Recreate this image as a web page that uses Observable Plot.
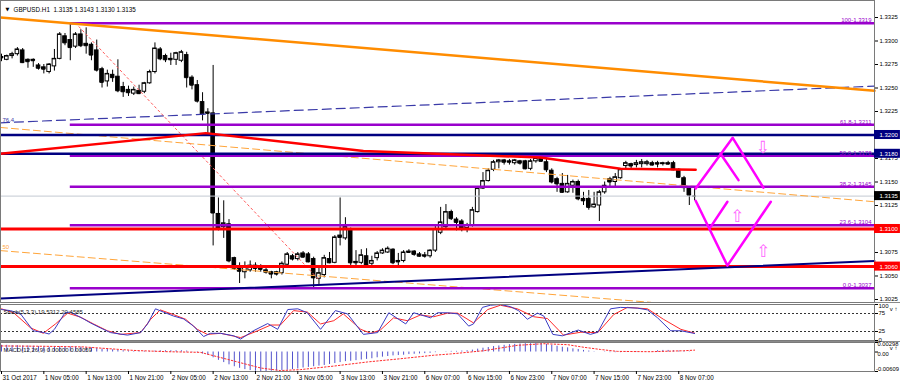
<!DOCTYPE html>
<html><head><meta charset="utf-8">
<script src="https://cdn.jsdelivr.net/npm/d3@7"></script>
<script src="https://cdn.jsdelivr.net/npm/@observablehq/plot@0.6"></script>
<style>
body{margin:0;background:#fff;}
#chart{width:900px;height:387px;overflow:hidden;font-family:"Liberation Sans",Arial,sans-serif;}
#chart svg{display:block;}
.sep{border-top:1px solid #8a8a8a;}
</style></head><body><div id="chart"></div>
<script>
// ---------- DATA ----------
const symbolTitle = "GBPUSD.H1  1.3135 1.3143 1.3130 1.3135";
const open = [
1.3283,1.3280,1.3284,1.3286,1.3290,1.3280,1.3280,1.3274,1.3272,1.3267,
1.3273,1.3281,1.3305,1.3301,1.3294,1.3307,1.3297,1.3296,1.3290,1.3270,
1.3257,1.3264,1.3262,1.3251,1.3248,1.3244,1.3247,1.3246,1.3255,1.3267,
1.3291,1.3284,1.3281,1.3280,1.3279,1.3285,1.3261,1.3253,1.3235,1.3224,
1.3223,1.3116,1.3102,1.3105,1.3069,1.3058,1.3054,1.3056,1.3061,1.3059,
1.3056,1.3054,1.3054,1.3053,1.3062,1.3071,1.3068,1.3074,1.3073,1.3068,
1.3047,1.3051,1.3068,1.3064,1.3093,1.3090,1.3100,1.3065,1.3064,1.3071,
1.3063,1.3069,1.3074,1.3075,1.3078,1.3066,1.3066,1.3076,1.3076,1.3073,
1.3072,1.3071,1.3077,1.3096,1.3102,1.3118,1.3110,1.3108,1.3101,1.3104,
1.3118,1.3143,1.3151,1.3163,1.3171,1.3173,1.3172,1.3170,1.3172,1.3172,
1.3164,1.3172,1.3176,1.3171,1.3162,1.3153,1.3148,1.3139,1.3146,1.3150,
1.3132,1.3132,1.3123,1.3125,1.3139,1.3153,1.3150,1.3154,1.3167,1.3169,
1.3168,1.3169,1.3169,1.3170,1.3170,1.3169,1.3170,1.3170,1.3163,1.3154,
1.3143,1.3135];
const high = [
1.3286,1.3285,1.3288,1.3293,1.3292,1.3281,1.3281,1.3276,1.3275,1.3276,
1.3291,1.3309,1.3308,1.3319,1.3309,1.3312,1.3314,1.3298,1.3301,1.3272,
1.3269,1.3269,1.3280,1.3256,1.3252,1.3251,1.3253,1.3256,1.3269,1.3298,
1.3293,1.3286,1.3287,1.3288,1.3290,1.3288,1.3263,1.3258,1.3245,1.3228,
1.3274,1.3133,1.3130,1.3110,1.3070,1.3064,1.3065,1.3066,1.3064,1.3062,
1.3058,1.3055,1.3055,1.3065,1.3075,1.3073,1.3075,1.3076,1.3075,1.3070,
1.3058,1.3072,1.3075,1.3093,1.3133,1.3112,1.3101,1.3077,1.3078,1.3079,
1.3071,1.3076,1.3079,1.3081,1.3079,1.3074,1.3077,1.3078,1.3077,1.3075,
1.3075,1.3078,1.3103,1.3123,1.3126,1.3120,1.3112,1.3110,1.3106,1.3123,
1.3145,1.3160,1.3164,1.3173,1.3174,1.3174,1.3174,1.3174,1.3173,1.3173,
1.3174,1.3177,1.3178,1.3174,1.3164,1.3155,1.3159,1.3157,1.3152,1.3152,
1.3139,1.3141,1.3139,1.3141,1.3150,1.3155,1.3159,1.3164,1.3172,1.3170,
1.3173,1.3174,1.3173,1.3172,1.3172,1.3171,1.3172,1.3172,1.3164,1.3156,
1.3144,1.3143];
const low = [
1.3278,1.3279,1.3281,1.3284,1.3276,1.3271,1.3272,1.3269,1.3265,1.3265,
1.3268,1.3280,1.3295,1.3279,1.3292,1.3293,1.3286,1.3279,1.3267,1.3250,
1.3251,1.3256,1.3245,1.3240,1.3241,1.3242,1.3243,1.3244,1.3254,1.3265,
1.3279,1.3277,1.3274,1.3274,1.3277,1.3250,1.3248,1.3234,1.3215,1.3200,
1.3082,1.3098,1.3090,1.3064,1.3056,1.3042,1.3047,1.3054,1.3054,1.3054,
1.3052,1.3047,1.3050,1.3051,1.3061,1.3066,1.3066,1.3069,1.3064,1.3037,
1.3040,1.3048,1.3063,1.3063,1.3082,1.3088,1.3058,1.3061,1.3062,1.3058,
1.3060,1.3066,1.3073,1.3074,1.3062,1.3058,1.3064,1.3074,1.3071,1.3070,
1.3069,1.3069,1.3075,1.3094,1.3100,1.3109,1.3098,1.3097,1.3096,1.3102,
1.3117,1.3142,1.3150,1.3161,1.3164,1.3168,1.3168,1.3168,1.3168,1.3163,
1.3162,1.3170,1.3171,1.3160,1.3148,1.3139,1.3138,1.3138,1.3138,1.3130,
1.3125,1.3120,1.3122,1.3108,1.3137,1.3144,1.3144,1.3153,1.3163,1.3164,
1.3165,1.3165,1.3167,1.3167,1.3165,1.3167,1.3168,1.3162,1.3154,1.3139,
1.3125,1.3130];
const close = [
1.3282,1.3284,1.3286,1.3291,1.3277,1.3278,1.3279,1.3271,1.3270,1.3275,
1.3281,1.3307,1.3298,1.3293,1.3307,1.3295,1.3295,1.3285,1.3269,1.3256,
1.3265,1.3261,1.3247,1.3246,1.3245,1.3248,1.3244,1.3255,1.3267,1.3292,
1.3281,1.3280,1.3280,1.3287,1.3288,1.3261,1.3253,1.3236,1.3222,1.3223,
1.3117,1.3101,1.3106,1.3066,1.3058,1.3055,1.3060,1.3061,1.3058,1.3057,
1.3054,1.3052,1.3052,1.3063,1.3073,1.3068,1.3073,1.3070,1.3065,1.3048,
1.3053,1.3069,1.3064,1.3091,1.3091,1.3102,1.3064,1.3064,1.3072,1.3061,
1.3066,1.3074,1.3077,1.3079,1.3064,1.3065,1.3075,1.3075,1.3073,1.3071,
1.3071,1.3077,1.3100,1.3107,1.3118,1.3111,1.3107,1.3100,1.3104,1.3120,
1.3143,1.3151,1.3162,1.3171,1.3173,1.3171,1.3171,1.3173,1.3170,1.3164,
1.3172,1.3175,1.3172,1.3163,1.3150,1.3148,1.3139,1.3148,1.3150,1.3132,
1.3130,1.3123,1.3126,1.3139,1.3146,1.3150,1.3155,1.3163,1.3170,1.3167,
1.3170,1.3171,1.3171,1.3168,1.3169,1.3170,1.3169,1.3163,1.3155,1.3144,
1.3136,1.3135];

const timeTickBars = [0,8,16,24,32,40,48,56,64,72,80,88,96,104,112,120,128];
const timeLabels = ["31 Oct 2017","1 Nov 05:00","1 Nov 13:00","1 Nov 21:00","2 Nov 05:00","2 Nov 13:00","2 Nov 21:00","3 Nov 05:00","3 Nov 13:00","3 Nov 21:00","6 Nov 07:00","6 Nov 15:00","6 Nov 23:00","7 Nov 07:00","7 Nov 15:00","7 Nov 23:00","8 Nov 07:00"];
const priceTicks = [1.3025,1.3050,1.3075,1.3100,1.3125,1.3150,1.3175,1.3200,1.3225,1.3250,1.3275,1.3300,1.3325];

// Fibonacci retracement
const fibLevels = [100, 61.8, 50.0, 38.2, 23.6, 0.0];
const fibPrices = [1.3319, 1.3211, 1.3178, 1.3145, 1.3104, 1.3037];
const fibStartBar = 13;
const fibDiagBars = [14, 60];
const fibDiagPrices = [1.3319, 1.3046];

// horizontal levels
const navyLevels = [1.3200, 1.3180];
const redLevels = [1.3100, 1.3060];
const lastPrice = 1.3135;

// trend lines (two anchors each)
const orangeTrendBars = [-0.19, 165.0];
const orangeTrendPrices = [1.3325, 1.3247];
const blueDashBars = [-0.19, 165.0];
const blueDashPrices = [1.3213, 1.3252];
const navyTrendBars = [-0.19, 165.0];
const navyTrendPrices = [1.3026, 1.3066];
const orangeDashUpBars = [-0.19, 165.0];
const orangeDashUpPrices = [1.3208, 1.3129];
const orangeDashLowBars = [-0.19, 122.7];
const orangeDashLowPrices = [1.3077, 1.3022];
const redCurveBars = [-0.19, 38.6, 68.4, 101.9, 117.0, 131.2];
const redCurvePrices = [1.3180, 1.3202, 1.3183, 1.3176, 1.3164, 1.3163];

// magenta projection drawings
const pinkUpperBars = [131.2, 138.2, 144.0];
const pinkUpperPrices = [1.3143, 1.3197, 1.3144];
const pinkUpperInnerBars = [135.9, 139.3];
const pinkUpperInnerPrices = [1.3180, 1.3152];
const pinkLowerBars = [131.2, 137.2, 145.4];
const pinkLowerPrices = [1.3130, 1.3061, 1.3129];
const pinkLowerInnerBars = [134.0, 137.2];
const pinkLowerInnerPrices = [1.3102, 1.3129];
const arrowBars = [143.9, 139.1, 144.0];
const arrowPrices = [1.3187, 1.3113, 1.3076];
const arrowGlyphs = ["\u21E9", "\u21E7", "\u21E7"];

// Stochastic (5,3,3)
const stochKBars = [0,1.7,3.6,6,8,9,10,12,13,15.5,16.8,18.7,20.6,23.8,26.3,27.6,29.1,30.6,32.5,34.4,36.3,38.2,39.5,41.4,43.9,45.2,47.6,50.3,52.2,54.1,56,57.8,60.3,63.1,65.4,68.4,71.1,73.2,76.4,77.9,81.1,82.4,84.3,86.2,88.3,89.2,90.9,92.4,94.3,96.2,97.7,99.4,101.3,102.5,104.2,106,109,111.3,112.7,115.1,117,120.2,122.1,124,126.5,128.4,131];
const stochKVals = [86,83,74,27,22,18,31,77,79,60,49,35,22,15,22,46,88,79,68,60,40,11,20,20,13,4,27,47,31,86,88,77,31,83,74,17,22,77,46,77,63,77,77,74,40,46,92,98,100,94,83,59,76,68,17,13,29,17,23,88,92,90,85,63,27,27,19.5312];
const stochDBars = [0,2.3,5.5,7.9,10.2,12.5,14.9,17.4,20,22.5,26.3,28.2,30,32.5,34.8,37,38.9,41.4,45.2,48.4,50.9,52.7,55.2,57.8,60.3,62.8,64.6,67.9,69.8,71.6,74.1,76.7,79.2,81.7,84.3,86.2,89.2,91.9,94.3,97.5,100.6,103.2,106.2,109.5,112.7,115.7,118.3,122.1,125.1,128.4,131];
const stochDVals = [88,77,35,20,46,76,65,46,27,17,22,59,85,72,59,31,17,20,8,27,43,43,83,79,46,55,74,31,20,29,63,55,71,66,76,76,49,86,98,88,66,61,15,23,22,72,92,88,59,31,20.4585];
const stochLevels = [25, 75];
const stochTicks = [0, 25, 75, 100];
const stochTitle = "Stoch(5,3,3) 19.5312 20.4585";

// MACD (12,26,9)
const macdMain = [
0.0021,0.0021,0.0020,0.0020,0.0019,0.0019,0.0018,0.0017,0.0016,0.0015,
0.0015,0.0016,0.0016,0.0016,0.0016,0.0015,0.0014,0.0013,0.0011,0.0009,
0.0008,0.0007,0.0005,0.0004,0.0003,0.0002,0.0002,0.0002,0.0002,0.0003,
0.0004,0.0004,0.0004,0.0004,0.0004,0.0003,0.0001,-0.0002,-0.0006,-0.0010,
-0.0018,-0.0026,-0.0033,-0.0040,-0.0046,-0.0051,-0.0055,-0.0058,-0.0060,-0.0061,
-0.0061,-0.0060,-0.0059,-0.0058,-0.0057,-0.0055,-0.0053,-0.0050,-0.0048,-0.0046,
-0.0044,-0.0042,-0.0039,-0.0036,-0.0033,-0.0030,-0.0029,-0.0027,-0.0025,-0.0023,
-0.0021,-0.0018,-0.0016,-0.0014,-0.0012,-0.0011,-0.0010,-0.0008,-0.0007,-0.0006,
-0.0005,-0.0004,-0.0002,0.0000,0.0001,0.0002,0.0002,0.0003,0.0004,0.0006,
0.0009,0.0012,0.0014,0.0017,0.0019,0.0021,0.0023,0.0024,0.0025,0.0026,
0.0026,0.0027,0.0026,0.0024,0.0021,0.0018,0.0015,0.0013,0.0010,0.0008,
0.0005,0.0003,0.0001,0.0000,-0.0001,-0.0002,-0.0002,-0.0002,-0.0001,-0.0001,
-0.0001,0.0000,0.0000,0.0001,0.0004,0.0005,0.0005,0.0004,0.0003,0.0002,
0.0001,0.0000];
const macdSigBars = [0,8,15.5,25,31.4,37.6,43.9,49,52.7,56.5,62.8,69.2,75.4,81.7,84.9,91.1,97.5,102.5,107,110,113.2,116.4,122.7,128.9,131];
const macdSigVals = [0.0019,0.0018,0.0016,0.0005,0.0001,-0.0001,-0.0028,-0.0050,-0.0058,-0.0055,-0.0044,-0.0031,-0.0021,-0.0010,-0.0006,0.0004,0.0021,0.0026,0.0023,0.0015,0.0008,0.0002,0.0001,0.0004,0.00059];
const macdMax = 0.00298, macdMin = -0.00609;
const macdTitle = "MACD(12,26,9) 0.00000 0.00059";

// ---------- BUILD ----------
[high, low, close, macdMain].forEach(a => { if (a.length !== open.length) throw new Error("length mismatch " + a.length); });
if (stochKBars.length !== stochKVals.length || stochDBars.length !== stochDVals.length || macdSigBars.length !== macdSigVals.length) throw new Error("series mismatch");

const xMin = -0.19, xMax = 165.0;
const priceMin = 1.30218, priceMax = 1.33431;
const W = 900, MR = 26;
const FONT = "'Liberation Sans', Arial, sans-serif";
const pts = (bs, vs) => bs.map((b, k) => ({bar: b, v: vs[k]}));

const candles = open.map((o, i) => ({i, open: o, high: high[i], low: low[i], close: close[i]}));
const fib = fibLevels.map((l, k) => ({level: l, price: fibPrices[k], label: (l === 100 ? "100" : l.toFixed(1)) + "-" + fibPrices[k].toFixed(4)}));
const tags = [
  ...navyLevels.map(p => ({price: p, bg: "#000080"})),
  {price: lastPrice, bg: "#000000"},
  ...redLevels.map(p => ({price: p, bg: "#ff0000"}))
];
const arrows = arrowBars.map((b, k) => ({bar: b, v: arrowPrices[k], g: arrowGlyphs[k]}));
const tagHalf = 0.00048;
const tagW = 4.9;

const baseStyle = {fontFamily: FONT, fontSize: "6px", background: "#fff", overflow: "visible", color: "#000"};
const chart = document.getElementById("chart");

const main = Plot.plot({
  width: W, height: 302, marginLeft: 0, marginRight: MR, marginTop: 0, marginBottom: 0,
  style: baseStyle,
  x: {domain: [xMin, xMax], axis: null},
  y: {domain: [priceMin, priceMax], axis: null},
  marks: [
    // candles
    Plot.ruleX(candles, {x: "i", y1: "low", y2: "high", stroke: "#000", strokeWidth: 1}),
    Plot.rect(candles, {x1: d => d.i - 0.34, x2: d => d.i + 0.34, y1: "open", y2: "close",
      fill: d => d.close >= d.open ? "#fff" : "#000", stroke: "#000", strokeWidth: 1}),
    Plot.ruleY(candles, {y: "close", x1: d => d.i - 0.34, x2: d => d.i + 0.34, stroke: "#000", strokeWidth: 1}),
    // current price line
    Plot.ruleY([lastPrice], {stroke: "#c3c9d2", strokeWidth: 1}),
    // dashed lines
    Plot.line(pts(orangeDashUpBars, orangeDashUpPrices), {x: "bar", y: "v", stroke: "#ffa53a", strokeWidth: 1, strokeDasharray: "7,4"}),
    Plot.line(pts(orangeDashLowBars, orangeDashLowPrices), {x: "bar", y: "v", stroke: "#ffa53a", strokeWidth: 1, strokeDasharray: "7,4"}),
    Plot.line(pts(blueDashBars, blueDashPrices), {x: "bar", y: "v", stroke: "#3a3aa8", strokeWidth: 1.2, strokeDasharray: "9,5"}),
    // fib retracement
    Plot.line(pts(fibDiagBars, fibDiagPrices), {x: "bar", y: "v", stroke: "#ff5a5a", strokeWidth: 1, strokeDasharray: "2,3"}),
    Plot.ruleY(fib, {y: "price", x1: () => fibStartBar, x2: () => xMax, stroke: "#9900cc", strokeWidth: 2.5}),
    // horizontal levels
    Plot.ruleY(navyLevels, {stroke: "#000080", strokeWidth: 2.5}),
    Plot.ruleY(redLevels, {stroke: "#ff0000", strokeWidth: 3}),
    // trend lines
    Plot.line(pts(redCurveBars, redCurvePrices), {x: "bar", y: "v", stroke: "#ff0000", strokeWidth: 2.5}),
    Plot.line(pts(orangeTrendBars, orangeTrendPrices), {x: "bar", y: "v", stroke: "#ff8c00", strokeWidth: 2.5}),
    Plot.line(pts(navyTrendBars, navyTrendPrices), {x: "bar", y: "v", stroke: "#000080", strokeWidth: 2}),
    // magenta projections
    Plot.line(pts(pinkUpperBars, pinkUpperPrices), {x: "bar", y: "v", stroke: "#ff00ff", strokeWidth: 2.5}),
    Plot.line(pts(pinkUpperInnerBars, pinkUpperInnerPrices), {x: "bar", y: "v", stroke: "#ff00ff", strokeWidth: 2.5}),
    Plot.line(pts(pinkLowerBars, pinkLowerPrices), {x: "bar", y: "v", stroke: "#ff00ff", strokeWidth: 2.5}),
    Plot.line(pts(pinkLowerInnerBars, pinkLowerInnerPrices), {x: "bar", y: "v", stroke: "#ff00ff", strokeWidth: 2.5}),
    Plot.text(arrows, {x: "bar", y: "v", text: "g", fill: "#ff66ff", fontSize: 17, fontFamily: "DejaVu Sans"}),
    // labels
    Plot.text(fib, {y: "price", text: "label", frameAnchor: "right", dx: -3, dy: -1, textAnchor: "end", lineAnchor: "bottom", fill: "#9900cc", fontSize: 6}),
    Plot.text(["76.4"], {y: () => blueDashPrices[0], frameAnchor: "left", dx: 2, dy: -1, textAnchor: "start", lineAnchor: "bottom", fill: "#3a3aa8", fontSize: 6}),
    Plot.text(["50"], {y: () => orangeDashLowPrices[0], frameAnchor: "left", dx: 2, dy: -2, textAnchor: "start", lineAnchor: "bottom", fill: "#ffa53a", fontSize: 6}),
    Plot.text([symbolTitle], {frameAnchor: "top-left", dx: 13, dy: 7, textAnchor: "start", fontSize: 6.3, fill: "#000"}),
    Plot.text(["\u25BC"], {frameAnchor: "top-left", dx: 5, dy: 7, fontSize: 5, fill: "#000", fontFamily: "DejaVu Sans"}),
    // frame and axis
    Plot.frame({stroke: "#7a7a7a"}),
    Plot.axisY({anchor: "right", ticks: priceTicks, tickFormat: d3.format(".4f"), tickSize: 3, tickPadding: 2, fontSize: 6}),
    Plot.rect(tags, {x1: () => xMax, x2: () => xMax + tagW, y1: d => d.price - tagHalf, y2: d => d.price + tagHalf, fill: "bg"}),
    Plot.text(tags, {y: "price", text: d => d.price.toFixed(4), frameAnchor: "right", dx: 5, textAnchor: "start", fill: "#fff", fontSize: 6})
  ]
});

const stoch = Plot.plot({
  width: W, height: 38, marginLeft: 0, marginRight: MR, marginTop: 1, marginBottom: 1,
  style: baseStyle,
  x: {domain: [xMin, xMax], axis: null},
  y: {domain: [0, 100], axis: null},
  marks: [
    Plot.ruleY(stochLevels, {stroke: "#333", strokeWidth: 1, strokeDasharray: "2,2"}),
    Plot.line(pts(stochDBars, stochDVals), {x: "bar", y: "v", stroke: "#ff2a2a", strokeWidth: 1}),
    Plot.line(pts(stochKBars, stochKVals), {x: "bar", y: "v", stroke: "#3b3bc4", strokeWidth: 1}),
    Plot.text([stochTitle], {frameAnchor: "top-left", dx: 3, dy: 5, textAnchor: "start", fontSize: 6, fill: "#222"}),
    Plot.frame({stroke: "#7a7a7a"}),
    Plot.axisY({anchor: "right", ticks: stochTicks, tickSize: 3, tickFormat: () => ""}),
    Plot.text([100], {y: d => d, text: d => String(d), frameAnchor: "right", dx: 4, textAnchor: "start", lineAnchor: "top", dy: -1}),
    Plot.text([75, 25], {y: d => d, text: d => String(d), frameAnchor: "right", dx: 4, textAnchor: "start"}),
    Plot.text([0], {y: d => d, text: d => String(d), frameAnchor: "right", dx: 4, textAnchor: "start", lineAnchor: "bottom", dy: 1})
  ]
});

const macd = Plot.plot({
  width: W, height: 44, marginLeft: 0, marginRight: MR, marginTop: 0, marginBottom: 15,
  style: baseStyle,
  x: {domain: [xMin, xMax], axis: null},
  y: {domain: [macdMin, macdMax], axis: null},
  marks: [
    Plot.ruleX(macdMain.map((v, i) => ({i, v})), {x: "i", y1: 0, y2: "v", stroke: "#5252cc", strokeWidth: 1}),
    Plot.line(pts(macdSigBars, macdSigVals), {x: "bar", y: "v", stroke: "#ff2a2a", strokeWidth: 1, strokeDasharray: "1.5,2"}),
    Plot.text([macdTitle], {frameAnchor: "top-left", dx: 3, dy: 5, textAnchor: "start", fontSize: 6, fill: "#222"}),
    Plot.frame({stroke: "#7a7a7a"}),
    Plot.axisY({anchor: "right", ticks: [macdMin, 0, macdMax], tickSize: 3, tickFormat: () => ""}),
    Plot.text([macdMax], {y: d => d, text: d => d.toFixed(5), frameAnchor: "right", dx: 3, textAnchor: "start", lineAnchor: "top", dy: -0.5, fontSize: 5.8}),
    Plot.text([0], {y: d => d, text: () => "0.00", frameAnchor: "right", dx: 3, textAnchor: "start", dy: 2.5, fontSize: 5.8}),
    Plot.text([macdMin], {y: d => d, text: d => d.toFixed(5), frameAnchor: "right", dx: 1.5, textAnchor: "start", lineAnchor: "bottom", dy: -1, fontSize: 5.8}),
    Plot.axisX({anchor: "bottom", ticks: timeTickBars, tickSize: 3, tickFormat: () => ""}),
    Plot.text(timeTickBars, {x: d => d, text: (d, k) => timeLabels[k], frameAnchor: "bottom", dy: 8, dx: 1, textAnchor: "start", fontSize: 6.3})
  ]
});

const d1 = document.createElement("div"); d1.appendChild(main);
const d2 = document.createElement("div"); d2.className = "sep"; d2.appendChild(stoch);
const d3el = document.createElement("div"); d3el.className = "sep"; d3el.appendChild(macd);
chart.append(d1, d2, d3el);
</script></body></html>
